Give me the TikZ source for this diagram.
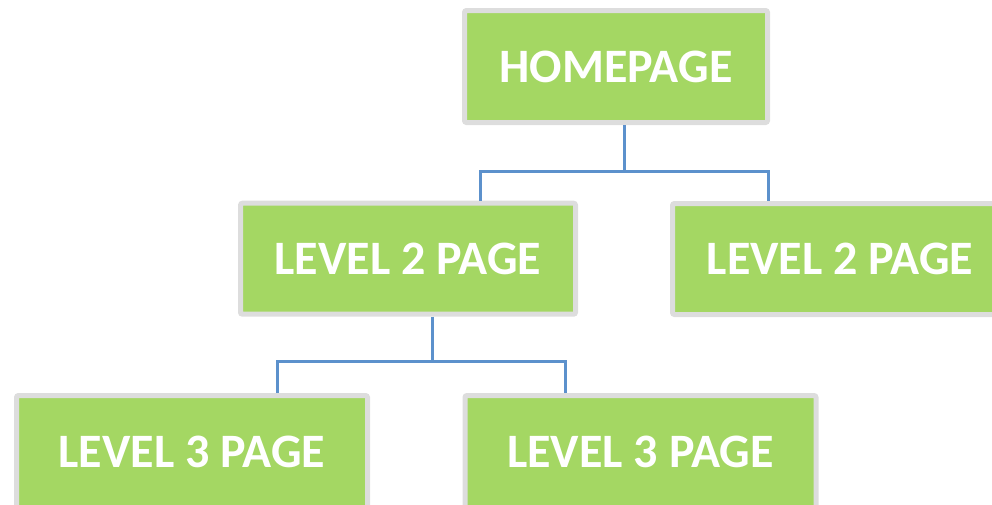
\documentclass[tikz,border=0pt]{standalone}
\usepackage{fontspec}
\setmainfont{Carlito}
\usetikzlibrary{calc}
\definecolor{pagegreen}{RGB}{164,215,99}
\definecolor{pageedge}{RGB}{221,221,221}
\definecolor{linkblue}{RGB}{92,145,204}
\tikzset{
	pagebox/.style={draw=pageedge,fill=pagegreen,line width=5pt,rounded corners=2pt,
		text=white,font=\fontsize{48}{52}\selectfont\bfseries,inner sep=0pt,
		minimum height=112pt},
	link/.style={draw=linkblue,line width=3pt}
}
\begin{document}
\begin{tikzpicture}[x=1pt,y=-1pt]
			\useasboundingbox (0,0) rectangle (992,504);
			%Pages
			\node[pagebox,minimum width=303pt] (home) at (616,66.5) {HOMEPAGE};
			\node[pagebox,minimum width=335pt,minimum height=111pt] (lvtwoA) at (408,258.7) {LEVEL 2 PAGE};
			\node[pagebox,minimum width=335pt,minimum height=111pt] (lvtwoB) at (840,259) {LEVEL 2 PAGE};
			\node[pagebox,minimum width=351pt] (lvthreeA) at (192,451.5) {LEVEL 3 PAGE};
			\node[pagebox,minimum width=351pt] (lvthreeB) at (640.5,451.5) {LEVEL 3 PAGE};
			%Links
			\begin{scope}
				\draw[link] ([xshift=8pt]home.south) -- ++(0,46) coordinate (jtop);
				\draw[link] ([xshift=72pt]lvtwoA.north) |- (jtop) -| ([xshift=-72pt]lvtwoB.north);
				\draw[link] ([xshift=24.5pt]lvtwoA.south) -- ++(0,45) coordinate (jmid);
				\draw[link] ([xshift=85.5pt]lvthreeA.north) |- (jmid) -| ([xshift=-75.5pt]lvthreeB.north);
			\end{scope}
		\end{tikzpicture}
\end{document}
